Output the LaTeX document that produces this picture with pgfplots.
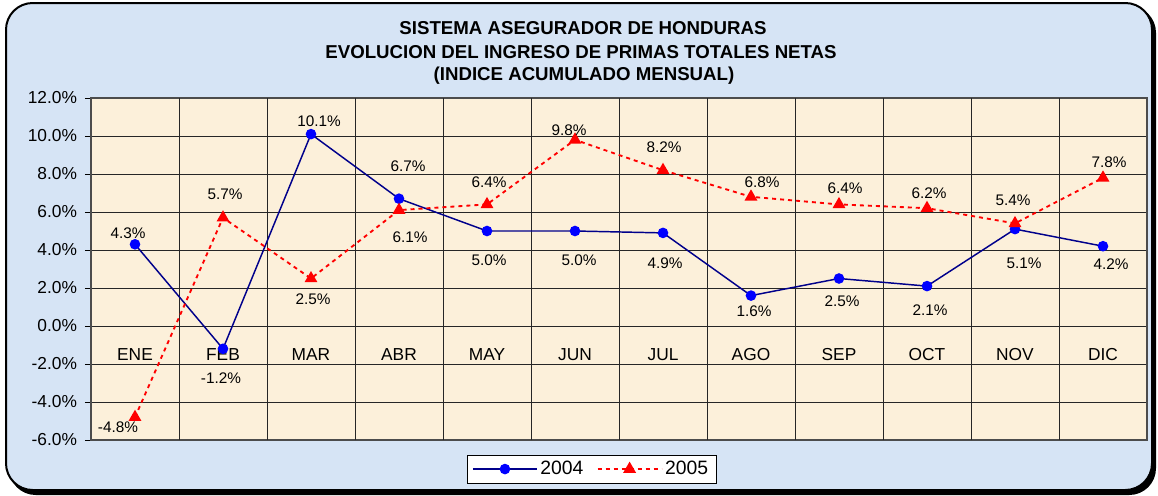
\documentclass[border=0pt]{standalone}
\usepackage{pgfplots}
\usepackage{pgfplotstable}
\pgfplotsset{compat=1.18}
\usepackage{fontspec}
\setmainfont{Liberation Sans}
\definecolor{outerbg}{HTML}{D6E4F5}
\definecolor{plotbg}{HTML}{FCF0DA}
\definecolor{navyline}{HTML}{00008B}

\pgfplotsset{
  lbl/.style={forget plot, draw=none, mark=none,
    point meta=y,
    nodes near coords={\pgfmathprintnumber[fixed,fixed zerofill,precision=1]{\pgfplotspointmeta}\%},
    visualization depends on={value \thisrow{dx} \as \lx},
    visualization depends on={value \thisrow{dy} \as \ly},
    every node near coord/.append style={anchor=center, xshift=\lx*0.75pt, yshift=\ly*0.75pt, font=\fontsize{11.5}{13}\selectfont, text=black}},
}

\begin{document}
\begin{tikzpicture}
\begin{scope}[x=0.75pt,y=-0.75pt]
\path[use as bounding box] (0,0) rectangle (1158,496);
\fill[black, rounded corners=20] (9,6) rectangle (1156,495);
\filldraw[fill=outerbg, draw=black, line width=1.5pt, rounded corners=20] (6,3) rectangle (1152,490);
\end{scope}

\begin{axis}[
  at={(68.25pt,-330pt)}, anchor=south west,
  scale only axis, width=792pt, height=256.5pt,
  xmin=-0.5, xmax=11.5, ymin=-6, ymax=12,
  xtick={0,...,11},
  xticklabels={ENE,FEB,MAR,ABR,MAY,JUN,JUL,AGO,SEP,OCT,NOV,DIC},
  xticklabel style={anchor=center, yshift=68.4pt, font=\fontsize{13}{15}\selectfont},
  major x tick style={draw=none},
  extra x ticks={0.5,1.5,...,10.5},
  extra x tick labels={},
  extra x tick style={grid=major, major tick length=0pt},
  ytick={-6,-4,...,12},
  ymajorgrids,
  ytick pos=left,
  yticklabel={\pgfmathprintnumber[fixed,fixed zerofill,precision=1]{\tick}\%},
  yticklabel style={font=\fontsize{13}{15}\selectfont, xshift=-2.5pt},
  /pgf/number format/assume math mode=true,
  tick align=outside,
  major tick length=4.5pt,
  tick style={black, line width=0.6pt},
  grid style={black!85, line width=0.6pt},
  axis background/.style={fill=plotbg},
  axis line style={black!70, line width=0.8pt},
  clip=false,
  legend style={at={(0.474,-0.085)}, anchor=center, legend columns=2,
    draw=black, fill=white, font=\fontsize{14.5}{16}\selectfont,
    inner xsep=4pt, inner ysep=2.5pt,
    /tikz/every even column/.append style={column sep=8pt}},
  legend image code/.code={\draw[mark repeat=2,mark phase=2,#1] plot coordinates {(0pt,0pt) (24pt,0pt) (48pt,0pt)};},
]
\addplot[navyline, line width=1.1pt, mark=*, mark size=3.4pt, mark options={fill=blue, draw=blue, solid}] coordinates {
(0,4.3) (1,-1.2) (2,10.1) (3,6.7) (4,5.0) (5,5.0) (6,4.9) (7,1.6) (8,2.5) (9,2.1) (10,5.1) (11,4.2)};
\addlegendentry{2004}
\addplot[red, line width=1.4pt, dash pattern=on 3pt off 3pt, mark=triangle*, mark size=4.2pt, mark options={fill=red, draw=red, solid}] coordinates {
(0,-4.8) (1,5.7) (2,2.5) (3,6.1) (4,6.4) (5,9.8) (6,8.2) (7,6.8) (8,6.4) (9,6.2) (10,5.4) (11,7.8)};
\addlegendentry{2005}
\addplot[lbl] table[x=x,y=y] {
x y dx dy
0 4.3 -7 11
1 -1.2 -2 -29
2 10.1 8 13
3 6.7 9 32
4 5.0 2 -29
5 5.0 4 -29
6 4.9 2 -30
7 1.6 3 -16
8 2.5 3 -23
9 2.1 3 -24
10 5.1 9 -34
11 4.2 8 -18
};
\addplot[lbl] table[x=x,y=y] {
x y dx dy
0 -4.8 -17 -10
1 5.7 2 23
2 2.5 2 -21
3 6.1 11 -27
4 6.4 2 22
5 9.8 -6 10
6 8.2 1 23
7 6.8 11 15
8 6.4 6 16
9 6.2 2 15
10 5.4 -2 23
11 7.8 6 16
};
\end{axis}

\begin{scope}[x=0.75pt,y=-0.75pt]
\node[font=\fontsize{14}{16}\selectfont\bfseries] at (583,28) {SISTEMA ASEGURADOR DE HONDURAS};
\node[font=\fontsize{14}{16}\selectfont\bfseries] at (581,52) {EVOLUCION DEL INGRESO DE PRIMAS TOTALES NETAS};
\node[font=\fontsize{14}{16}\selectfont\bfseries] at (584,76) {(INDICE ACUMULADO MENSUAL)};
\end{scope}
\end{tikzpicture}
\end{document}
